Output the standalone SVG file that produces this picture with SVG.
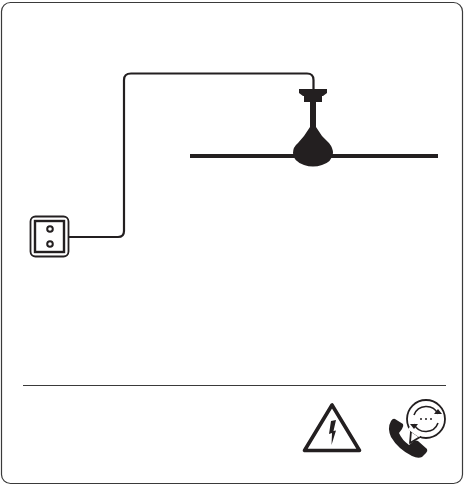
<svg xmlns="http://www.w3.org/2000/svg" width="464" height="485" viewBox="0 0 464 485">
<style>
.k{fill:#231f20}
.w{fill:none;stroke:#231f20;stroke-width:2.2}
.b{fill:none;stroke:#231f20}
</style>
<rect width="464" height="485" fill="#fff"/>
<g id="border"><rect x="1.5" y="2.5" width="461" height="481" rx="9" fill="none" stroke="#3a3a3a" stroke-width="1.2"/></g>
<g id="connectors">
<path class="w" d="M69 237H118Q124 237 124 231V80Q124 73.500 131 73.500H307Q313.500 73.500 313.500 80V90"/>
</g>
<g id="socket">
<rect class="b" x="30.500" y="216.500" width="38" height="40" rx="5" stroke-width="1.800"/>
<rect class="b" x="35" y="221" width="29" height="31" stroke-width="2.400"/>
<circle class="b" cx="50" cy="229" r="2.800" stroke-width="2"/>
<circle class="b" cx="50" cy="244" r="2.800" stroke-width="2"/>
</g>
<g id="fan">
<rect class="k" x="190" y="154" width="248" height="4"/>
<path class="k" d="M299 89H327V93L323 96H322V102H316V127L322 136L329 143Q333 148 333 153Q332 162 322 165Q313 168 304 165Q293 161 293 153Q293 147 298 143L304 136L310 127V102H304V96H303L299 93Z"/>
</g>
<g id="divider"><line x1="23" y1="385.500" x2="446" y2="385.500" stroke="#3a3a3a" stroke-width="1"/></g>
<g id="warning">
<path d="M332 405L304.500 450.500H359.500Z" fill="none" stroke="#231f20" stroke-width="3.600" stroke-linejoin="round"/>
<path d="M331 421L336 420L333.500 431L336 430.500L331.500 445L332 433L329 434Z" class="k"/>
</g>
<g id="phone">
<path class="k" d="M395 419L403 424Q404 426 402 429L399 433Q402 440 409 445L414 441Q416 440 418 441L427 449Q428 451 426 453L422 457Q418 459 412 456Q398 449 391 437Q387 428 391 421Q393 418 395 419Z"/>
<circle cx="426" cy="419" r="19" fill="#fff" stroke="#231f20" stroke-width="1.800"/>
<path d="M411 431L410 443L420 437Z" fill="#fff" stroke="#231f20" stroke-width="1.800" stroke-linejoin="round"/>
<path d="M409 428L414 432L420 436" fill="#fff" stroke="#fff" stroke-width="3"/>
<path class="b" d="M414 415A13 13 0 0 1 438 414M438 423A13 13 0 0 1 414 424" stroke-width="1.600"/>
<path class="k" d="M434 414H442L438 409ZM410 424H418L414 429Z"/>
<circle class="k" cx="421" cy="419" r="1"/><circle class="k" cx="426" cy="419" r="1"/><circle class="k" cx="431" cy="419" r="1"/>
</g>
</svg>
